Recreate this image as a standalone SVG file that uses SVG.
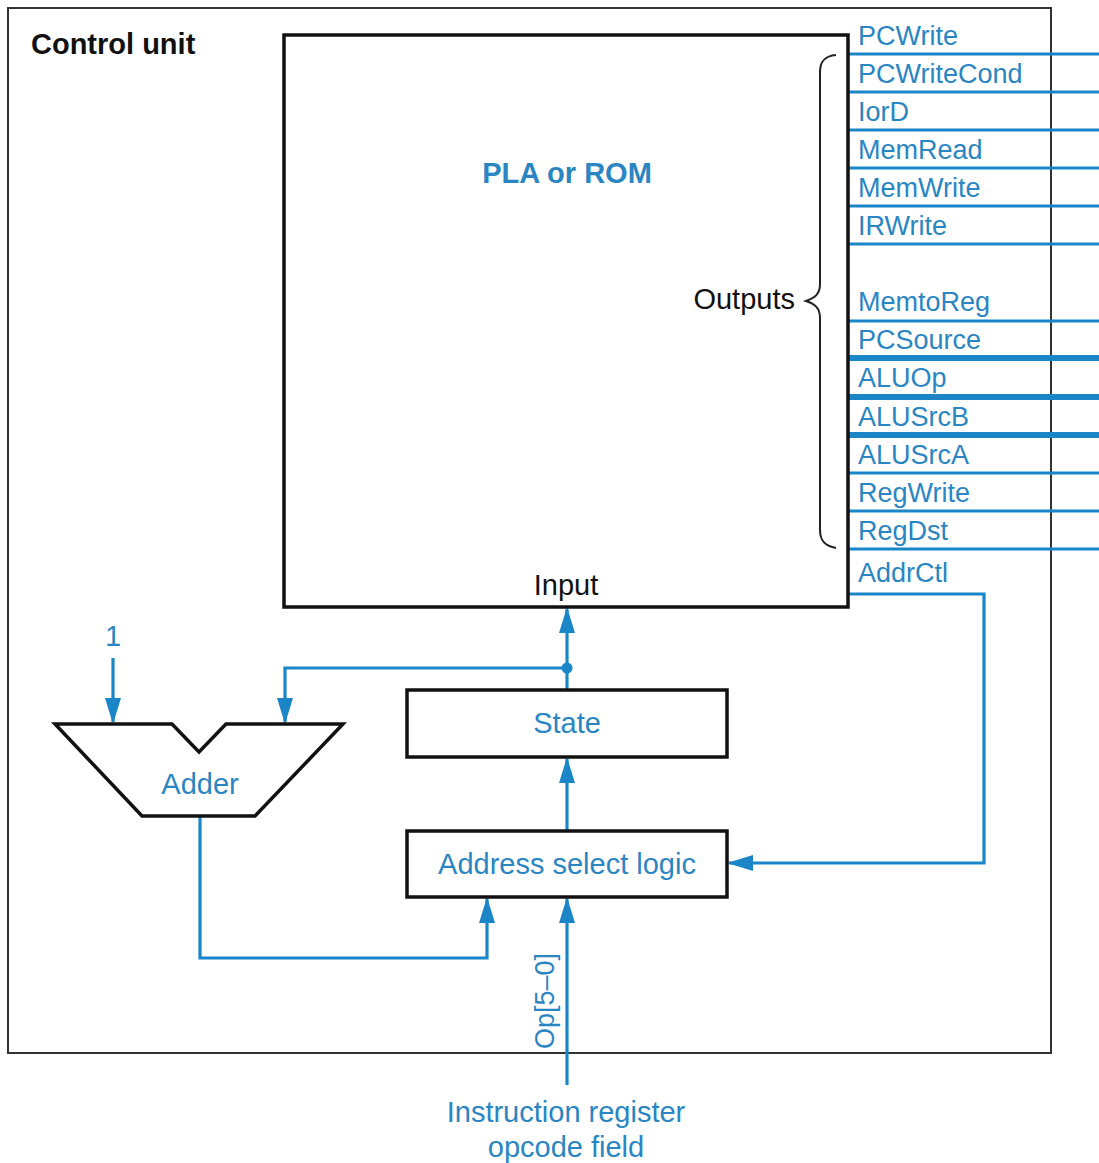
<svg xmlns="http://www.w3.org/2000/svg" width="1099" height="1163" viewBox="0 0 1099 1163">
<style>
.box{fill:#fff;stroke:#111;stroke-width:3.5}
.w{fill:none;stroke:#1a86c8;stroke-width:3.2}
.wt{fill:none;stroke:#1a86c8;stroke-width:6}
.lb{font-family:"Liberation Sans",Arial,sans-serif;font-size:27px;fill:#2a86c2}
.lg{font-family:"Liberation Sans",Arial,sans-serif;font-size:29px;fill:#2a86c2}
.bk{font-family:"Liberation Sans",Arial,sans-serif;font-size:29px;fill:#111}
.title{font-family:"Liberation Sans",Arial,sans-serif;font-size:29px;font-weight:bold;fill:#2a86c2}
</style>
<defs>
<marker id="ah" markerUnits="userSpaceOnUse" markerWidth="26" markerHeight="16" refX="24" refY="8" viewBox="0 0 26 16" orient="auto">
<path d="M0,0 L26,8 L0,16 z" fill="#1a86c8"/>
</marker>
</defs>
<rect width="1099" height="1163" fill="#fff"/>
<g id="control-unit">
<rect x="8" y="8" width="1043" height="1045" fill="none" stroke="#333" stroke-width="2"/>
<text x="31" y="54" class="bk" font-weight="bold">Control unit</text>
</g>
<g id="connectors">
<line class="w" x1="848" y1="54" x2="1099" y2="54"/>
<line class="w" x1="848" y1="92" x2="1099" y2="92"/>
<line class="w" x1="848" y1="130" x2="1099" y2="130"/>
<line class="w" x1="848" y1="168" x2="1099" y2="168"/>
<line class="w" x1="848" y1="206" x2="1099" y2="206"/>
<line class="w" x1="848" y1="244" x2="1099" y2="244"/>
<line class="w" x1="848" y1="321" x2="1099" y2="321"/>
<line class="wt" x1="848" y1="358" x2="1099" y2="358"/>
<line class="wt" x1="848" y1="397" x2="1099" y2="397"/>
<line class="wt" x1="848" y1="435" x2="1099" y2="435"/>
<line class="w" x1="848" y1="473" x2="1099" y2="473"/>
<line class="w" x1="848" y1="511" x2="1099" y2="511"/>
<line class="w" x1="848" y1="549" x2="1099" y2="549"/>
<polyline class="w" points="848,594 984,594 984,863 729,863" marker-end="url(#ah)"/>
<line class="w" x1="567" y1="690" x2="567" y2="609" marker-end="url(#ah)"/>
<circle cx="567" cy="668" r="5.5" fill="#1a86c8"/>
<polyline class="w" points="567,668 285,668 285,722" marker-end="url(#ah)"/>
<line class="w" x1="113" y1="658" x2="113" y2="722" marker-end="url(#ah)"/>
<line class="w" x1="567" y1="831" x2="567" y2="759" marker-end="url(#ah)"/>
<polyline class="w" points="200,816 200,958 487,958 487,899" marker-end="url(#ah)"/>
<line class="w" x1="567" y1="1085" x2="567" y2="899" marker-end="url(#ah)"/>
<text class="lb" transform="translate(554,1049) rotate(-90)">Op[5–0]</text>
</g>
<g id="pla">
<rect class="box" x="284" y="35" width="564" height="572"/>
<text x="567" y="183" class="title" text-anchor="middle">PLA or ROM</text>
<text x="566" y="595" class="bk" text-anchor="middle">Input</text>
<text x="795" y="309" class="bk" text-anchor="end">Outputs</text>
<path d="M836,55 C824,56 820,62 820,72 L820,284 C820,294 815,298 806,301 C815,304 820,308 820,318 L820,530 C820,540 824,546 836,548" fill="none" stroke="#222" stroke-width="2"/>
</g>
<g id="output-labels">
<text class="lb" x="858" y="45">PCWrite</text>
<text class="lb" x="858" y="83">PCWriteCond</text>
<text class="lb" x="858" y="121">IorD</text>
<text class="lb" x="858" y="159">MemRead</text>
<text class="lb" x="858" y="197">MemWrite</text>
<text class="lb" x="858" y="235">IRWrite</text>
<text class="lb" x="858" y="311">MemtoReg</text>
<text class="lb" x="858" y="349">PCSource</text>
<text class="lb" x="858" y="387">ALUOp</text>
<text class="lb" x="858" y="426">ALUSrcB</text>
<text class="lb" x="858" y="464">ALUSrcA</text>
<text class="lb" x="858" y="502">RegWrite</text>
<text class="lb" x="858" y="540">RegDst</text>
<text class="lb" x="858" y="582">AddrCtl</text>
</g>
<g id="state">
<rect class="box" x="407" y="690" width="320" height="67"/>
<text class="lg" x="567" y="733" text-anchor="middle">State</text>
</g>
<g id="address-select-logic">
<rect class="box" x="407" y="831" width="320" height="66"/>
<text class="lg" x="567" y="874" text-anchor="middle">Address select logic</text>
</g>
<g id="adder">
<polygon points="55,724 172,724 199,752 226,724 343,724 255,816 142,816" fill="#fff" stroke="#111" stroke-width="3.5" stroke-linejoin="miter"/>
<text class="lg" x="200" y="794" text-anchor="middle">Adder</text>
<text class="lg" x="113" y="646" text-anchor="middle">1</text>
</g>
<g id="ir-label">
<text class="lg" x="566" y="1122" text-anchor="middle">Instruction register</text>
<text class="lg" x="566" y="1157" text-anchor="middle">opcode field</text>
</g>
</svg>
